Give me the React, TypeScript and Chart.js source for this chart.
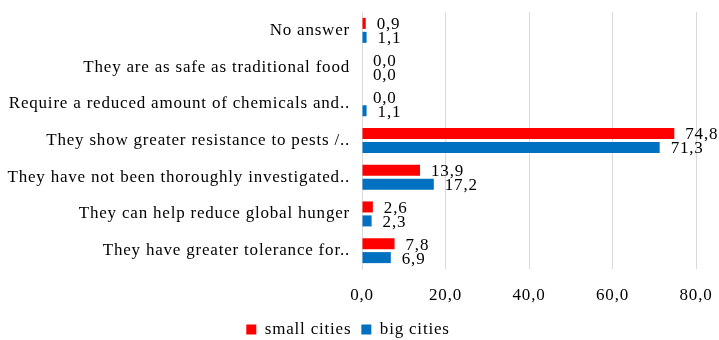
import React, { useEffect, useRef } from "react";
import { Chart, registerables } from "chart.js";

Chart.register(...registerables);

const categories = [
  "No answer",
  "They are as safe as traditional food",
  "Require a reduced amount of chemicals and..",
  "They show greater resistance to pests /..",
  "They have not been thoroughly investigated..",
  "They can help reduce global hunger",
  "They have greater tolerance for..",
];
const smallCities = [0.9, 0.0, 0.0, 74.8, 13.9, 2.6, 7.8];
const bigCities = [1.1, 0.0, 1.1, 71.3, 17.2, 2.3, 6.9];
const seriesNames = ["small cities", "big cities"];
const xTicks = [0, 20, 40, 60, 80];

const FONT = "'Liberation Serif', 'Times New Roman', serif";
const fmt = (v: number) => v.toFixed(1).replace(".", ",");

const spacingPlugin = {
  id: "spacing",
  beforeLayout(chart: any) {
    chart.ctx.letterSpacing = "0.8px";
  },
  beforeDraw(chart: any) {
    chart.ctx.letterSpacing = "0.8px";
  },
};

const labelPlugin = {
  id: "valueLabels",
  afterDatasetsDraw(chart: any) {
    const ctx = chart.ctx;
    ctx.save();
    ctx.letterSpacing = "0.8px";
    ctx.font = `17px ${FONT}`;
    ctx.fillStyle = "#000";
    ctx.textAlign = "left";
    ctx.textBaseline = "middle";
    chart.data.datasets.forEach((ds: any, di: number) => {
      const meta = chart.getDatasetMeta(di);
      meta.data.forEach((bar: any, i: number) => {
        ctx.fillText(fmt(ds.data[i]), bar.x + 11, bar.y + 1.5);
      });
    });
    ctx.restore();
  },
};

export default function App() {
  const ref = useRef<HTMLCanvasElement>(null);
  useEffect(() => {
    if (!ref.current) return;
    const chart = new Chart(ref.current, {
      type: "bar",
      data: {
        labels: categories,
        datasets: [
          {
            label: seriesNames[0],
            data: smallCities,
            backgroundColor: "#FF0000",
            categoryPercentage: 0.76,
            barPercentage: 0.79,
          },
          {
            label: seriesNames[1],
            data: bigCities,
            backgroundColor: "#0070C0",
            categoryPercentage: 0.76,
            barPercentage: 0.79,
          },
        ],
      },
      options: {
        indexAxis: "y",
        animation: false,
        responsive: true,
        maintainAspectRatio: false,
        layout: { padding: { left: 0, right: 23, top: 12, bottom: -8 } },
        scales: {
          x: {
            min: 0,
            max: 80,
            afterBuildTicks(axis: any) {
              axis.ticks = xTicks.map((v) => ({ value: v }));
            },
            afterFit(axis: any) {
              axis.height = 42;
              axis.paddingLeft = 0;
              axis.paddingRight = 0;
            },
            grid: { color: "#d9d9d9", drawTicks: false },
            border: { display: false },
            ticks: {
              padding: 16,
              color: "#000",
              font: { family: FONT, size: 17 },
              callback: (v: any) => fmt(Number(v)),
            },
          },
          y: {
            grid: { display: false, drawTicks: false },
            border: { display: true, color: "#d9d9d9" },
            afterFit(axis: any) {
              axis.width = 362;
              axis.paddingTop = 0;
              axis.paddingBottom = 0;
            },
            ticks: {
              padding: 12,
              color: "#000",
              font: { family: FONT, size: 17 },
            },
          },
        },
        plugins: {
          tooltip: { enabled: false },
          legend: {
            position: "bottom",
            labels: {
              boxWidth: 10,
              boxHeight: 10,
              padding: 10,
              color: "#000",
              font: { family: FONT, size: 17 },
            },
          },
        },
      },
      plugins: [spacingPlugin, labelPlugin],
    } as any);
    return () => chart.destroy();
  }, []);
  return (
    <div style={{ position: "fixed", left: 0, top: 0, width: 719, height: 340, background: "#fff" }}>
      <canvas ref={ref} />
    </div>
  );
}
